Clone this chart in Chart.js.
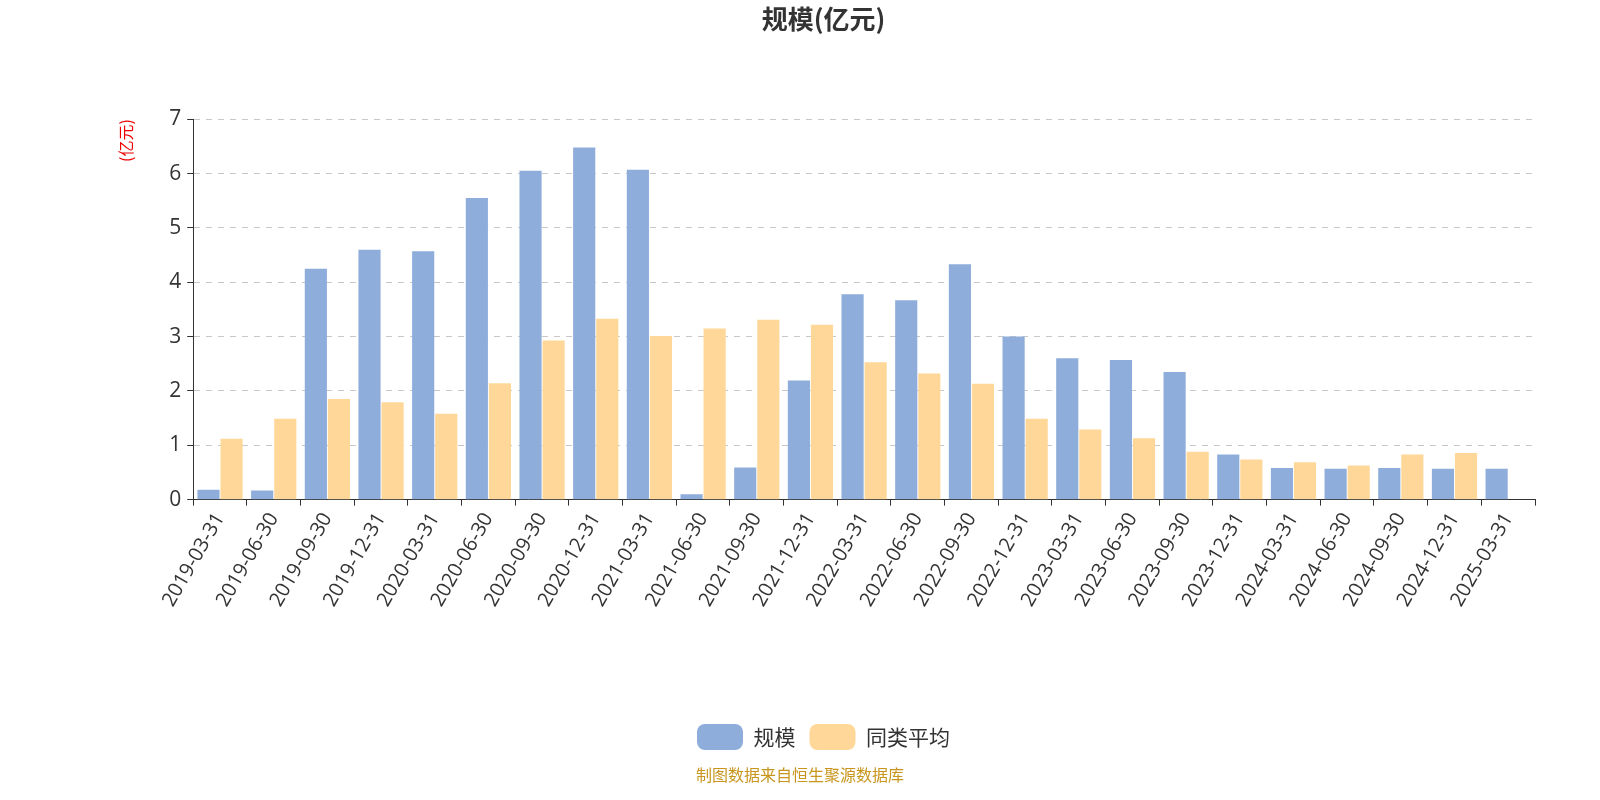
<!DOCTYPE html>
<html><head><meta charset="utf-8">
<script src="https://cdn.jsdelivr.net/npm/chart.js@4/dist/chart.umd.min.js"></script>
<style>
body{margin:0;background:#fff;font-family:"Noto Sans CJK SC","Noto Sans",sans-serif;}
#wrap{position:relative;width:1600px;height:800px;}
#foot{position:absolute;left:0;width:1600px;top:762px;text-align:center;color:#c8961e;font-size:16px;}
</style></head>
<body>
<div id="wrap"><canvas id="c" width="1600" height="800"></canvas><div id="foot">制图数据来自恒生聚源数据库</div></div>
<script>
// ===== DATA =====
const dates = ['2019-03-31','2019-06-30','2019-09-30','2019-12-31','2020-03-31','2020-06-30','2020-09-30','2020-12-31','2021-03-31','2021-06-30','2021-09-30','2021-12-31','2022-03-31','2022-06-30','2022-09-30','2022-12-31','2023-03-31','2023-06-30','2023-09-30','2023-12-31','2024-03-31','2024-06-30','2024-09-30','2024-12-31','2025-03-31'];
const scale = [0.18,0.17,4.25,4.6,4.57,5.55,6.05,6.48,6.07,0.1,0.59,2.19,3.78,3.67,4.33,3.0,2.6,2.57,2.35,0.83,0.58,0.57,0.58,0.57,0.57];
const peerAvg = [1.12,1.49,1.85,1.79,1.58,2.14,2.93,3.33,3.01,3.15,3.31,3.22,2.53,2.32,2.13,1.49,1.29,1.13,0.88,0.74,0.69,0.63,0.83,0.86,null];
const yTicks = [0,1,2,3,4,5,6,7];

const font = "'Open Sans','Noto Sans CJK SC',sans-serif";
Chart.defaults.font.family = font;
Chart.defaults.color = '#333';

new Chart(document.getElementById('c'), {
  type: 'bar',
  data: {
    labels: dates,
    datasets: [
      { label: '规模', data: scale, backgroundColor: '#8eaddb', borderColor: '#8eaddb', categoryPercentage: 0.86, barPercentage: 0.96 },
      { label: '同类平均', data: peerAvg, backgroundColor: '#ffd899', borderColor: '#ffd899', categoryPercentage: 0.86, barPercentage: 0.96 }
    ]
  },
  options: {
    responsive: false,
    animation: false,
    layout: { padding: { left: 112, right: 65, top: 0, bottom: 40 } },
    plugins: {
      title: { display: true, text: '规模(亿元)', font: { family: "'Noto Sans CJK SC',sans-serif", size: 26, weight: 'bold' }, color: '#333', padding: { top: 4, bottom: 84 } },
      legend: {
        position: 'bottom',
        labels: { font: { family: "'Noto Sans CJK SC',sans-serif", size: 21 }, color: '#333', boxWidth: 46, boxHeight: 26, useBorderRadius: true, borderRadius: 8, padding: 14 }
      },
      tooltip: { enabled: false }
    },
    scales: {
      x: {
        offset: true,
        afterFit: ax => { ax.height += 96; },
        grid: { display: true, drawOnChartArea: false, offset: true, color: '#333', tickLength: 6 },
        border: { color: '#333' },
        ticks: { maxRotation: 60, minRotation: 60, autoSkip: false, font: { size: 20 }, color: '#333' }
      },
      y: {
        min: 0, max: 7,
        afterBuildTicks: ax => { ax.ticks = yTicks.map(v => ({ value: v })); },
        grid: { color: '#c8c8c8', tickLength: 6, tickColor: '#333' },
        border: { color: '#333', dash: [6, 6] },
        ticks: { font: { size: 21 }, color: '#333', padding: 6 },
        title: { display: true, text: '(亿元)', align: 'end', color: '#e00', font: { family: "'Noto Sans CJK SC',sans-serif", size: 16 }, padding: { bottom: 28 } }
      }
    }
  }
});
</script>
</body></html>
